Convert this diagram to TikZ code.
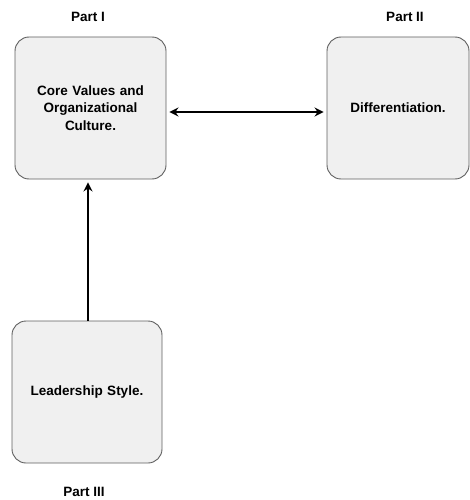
\documentclass[tikz,border=0pt]{standalone}
\usepackage{fontspec}
\setmainfont{Liberation Sans}
\usepackage{xcolor}
\usetikzlibrary{arrows.meta, positioning}

\definecolor{boxfill}{HTML}{F0F0F0}
\definecolor{boxline}{HTML}{5F5F5F}

\begin{document}
\begin{tikzpicture}[x=1pt, y=-1pt, >={Stealth[length=9pt, width=9pt, inset=3pt]},
			font=\bfseries\fontsize{13.5}{17.5}\selectfont,
			part/.style={draw=boxline, fill=boxfill, line width=0.9pt, rounded corners=14pt,
				align=center, inner sep=0pt},
			link/.style={line width=2pt, black, shorten >=3pt, shorten <=3pt}]
			\useasboundingbox (0,0) rectangle (470,500);
			% the three parts
			\node[part, minimum width=151pt, minimum height=142pt, text width=130pt]
			(core) at (90.5,108) {Core Values and\\Organizational\\Culture.};
			\node[part, minimum width=142pt, minimum height=142pt, text width=130pt]
			(diff) at (398,108) {Differentiation.};
			\node[part, minimum width=150pt, minimum height=142pt, text width=130pt]
			(lead) at (87,392) {Leadership Style.};
			% headings
			\node (p1) at (88,17) {Part I};
			\node (p2) at (405,17) {Part II};
			\node (p3) at (84,492) {Part III};
			% links between the parts
			\draw[link, <->] ([yshift=-4pt]core.east) -- ([yshift=-4pt]diff.west);
			\draw[link, ->, shorten <=0pt] ([xshift=1pt]lead.north) -- ([xshift=1pt]lead.north |- core.south);
		\end{tikzpicture}
\end{document}
